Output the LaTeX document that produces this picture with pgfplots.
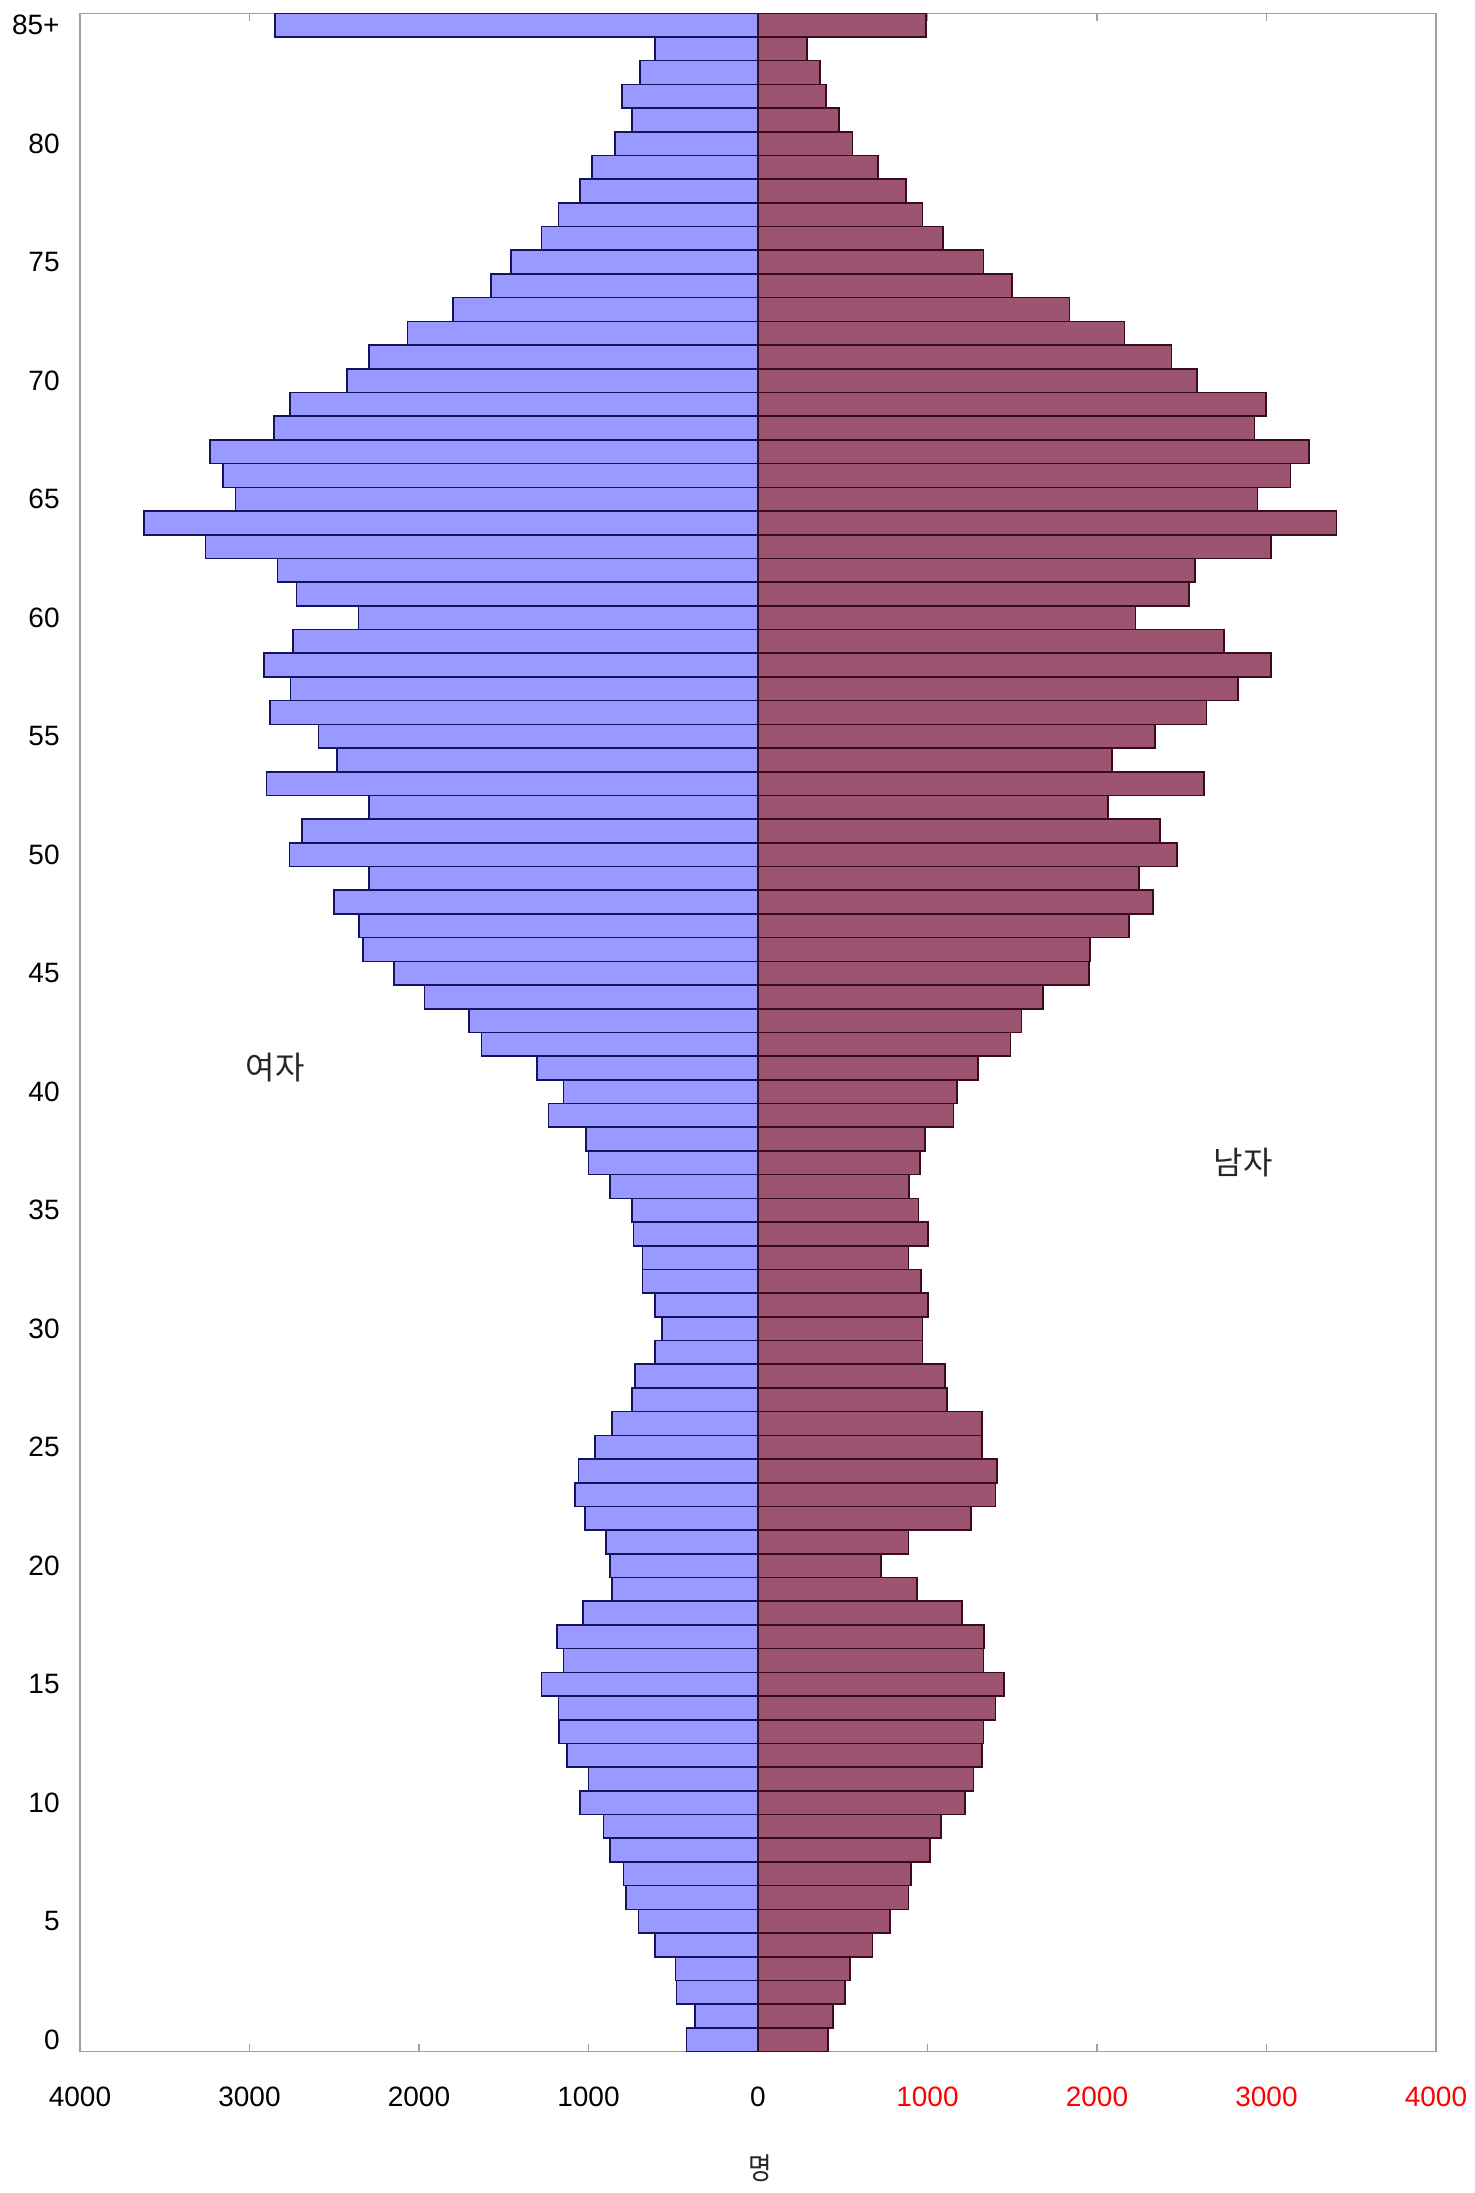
\documentclass[border=0pt]{standalone}
\usepackage{fontspec}
\setmainfont{Liberation Sans}
\newfontfamily\kr{Noto Sans CJK KR}
\usepackage{pgfplots}
\pgfplotsset{compat=1.18}
\usepackage{pgfplotstable}
\definecolor{fem}{HTML}{9999FF}
\definecolor{femedge}{HTML}{14145A}
\definecolor{mal}{HTML}{9C5470}
\definecolor{maledge}{HTML}{3A0A1E}
\definecolor{axgray}{HTML}{A0A0A0}
\pgfplotstableread{
age f m
0 -422 414
1 -373 444
2 -480 513
3 -486 542
4 -608 675
5 -706 779
6 -780 888
7 -794 903
8 -873 1016
9 -912 1081
10 -1049 1223
11 -1000 1272
12 -1127 1322
13 -1173 1331
14 -1176 1400
15 -1278 1450
16 -1147 1331
17 -1186 1335
18 -1033 1203
19 -863 937
20 -873 726
21 -898 888
22 -1020 1258
23 -1078 1400
24 -1059 1410
25 -961 1322
26 -863 1322
27 -745 1114
28 -725 1105
29 -608 970
30 -565 970
31 -608 1002
32 -682 963
33 -682 888
34 -735 1002
35 -745 947
36 -873 892
37 -1000 957
38 -1014 986
39 -1235 1154
40 -1147 1174
41 -1304 1298
42 -1631 1489
43 -1706 1554
44 -1967 1680
45 -2148 1953
46 -2329 1957
47 -2354 2190
48 -2502 2331
49 -2296 2248
50 -2765 2471
51 -2691 2372
52 -2296 2066
53 -2900 2630
54 -2483 2088
55 -2594 2342
56 -2879 2645
57 -2758 2831
58 -2913 3027
59 -2745 2748
60 -2357 2226
61 -2723 2544
62 -2835 2577
63 -3259 3025
64 -3624 3412
65 -3082 2947
66 -3158 3141
67 -3234 3252
68 -2857 2929
69 -2761 2998
70 -2424 2589
71 -2294 2439
72 -2068 2163
73 -1801 1837
74 -1575 1500
75 -1456 1331
76 -1278 1092
77 -1176 970
78 -1049 873
79 -980 707
80 -845 557
81 -743 478
82 -803 400
83 -695 367
84 -606 288
85 -2850 990
}\pyr
\begin{document}
\begin{tikzpicture}
\path[use as bounding box] (0,0) rectangle (737.5pt,-1096.5pt);
\begin{axis}[
  at={(40pt,-6.65pt)}, anchor=north west,
  scale only axis, width=678pt, height=1019.2pt,
  xmin=-4000, xmax=4000, ymin=-0.5, ymax=85.5,
  xbar, bar width=1, bar shift=0pt,
  axis line style={axgray, line width=0.7pt},
  xtick={-4000,-3000,...,4000},
  xticklabels={4000,3000,2000,1000,0,\textcolor{red}{1000},\textcolor{red}{2000},\textcolor{red}{3000},\textcolor{red}{4000}},
  ytick={0,5,...,85},
  yticklabels={0,5,10,15,20,25,30,35,40,45,50,55,60,65,70,75,80,85+},
  tick align=inside, major tick length=4pt,
  xtick style={axgray, line width=0.7pt},
  ytick style={draw=none},
  xticklabel style={font=\fontsize{14}{16}\selectfont, inner sep=0pt, anchor=north, yshift=-17.5pt},
  yticklabel style={font=\fontsize{14}{16}\selectfont, inner sep=0pt, anchor=east, xshift=-10pt},
  /pgf/number format/assume math mode=true,
]
\addplot[xbar, bar width=1, bar shift=0pt, fill=fem, draw=femedge, line width=0.8pt] table[x=f, y=age] {\pyr};
\addplot[xbar, bar width=1, bar shift=0pt, fill=mal, draw=maledge, line width=0.8pt] table[x=m, y=age] {\pyr};
\end{axis}
\node[font=\kr\fontsize{16}{18}\selectfont, text=black!85] at (137.5pt,-534pt) {여자};
\node[font=\kr\fontsize{16}{18}\selectfont, text=black!85] at (621.5pt,-581.5pt) {남자};
\node[font=\kr\fontsize{15}{18}\selectfont, text=black!85, xscale=0.85] at (380pt,-1084pt) {명};
\end{tikzpicture}
\end{document}
